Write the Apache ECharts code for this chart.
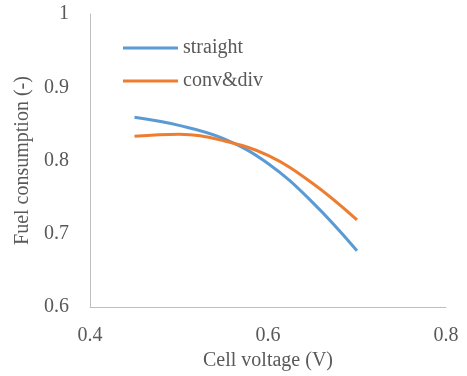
<!DOCTYPE html>
<html>
<head>
<meta charset="utf-8">
<script src="https://cdn.jsdelivr.net/npm/echarts@6/dist/echarts.min.js"></script>
<style>
  html, body { margin: 0; padding: 0; background: #fff; }
  #chart { width: 467px; height: 376px; }
</style>
</head>
<body>
<div id="chart"></div>
<script>
// data
var voltage = [0.45, 0.5, 0.55, 0.6, 0.65, 0.7];
var straight = [0.859, 0.848, 0.830, 0.796, 0.743, 0.677];
var convDiv = [0.833, 0.836, 0.827, 0.807, 0.769, 0.719];
var seriesNames = ['straight', 'conv&div'];

function pairs(xs, ys) {
  var out = [];
  for (var i = 0; i < xs.length; i++) out.push([xs[i], ys[i]]);
  return out;
}

var dom = document.getElementById('chart');
var myChart = echarts.init(dom, null, { renderer: 'canvas' });
var font = '"Liberation Serif", "Times New Roman", serif';
var grey = '#595959';

var option = {
  animation: false,
  textStyle: { fontFamily: font },
  grid: { left: 90, right: 21, top: 14, bottom: 65 },
  legend: {
    orient: 'vertical',
    left: 118,
    top: 33,
    itemWidth: 55,
    itemHeight: 3,
    itemGap: 13,
    icon: 'rect',
    textStyle: { fontFamily: font, fontSize: 20, color: grey },
    data: seriesNames
  },
  xAxis: {
    type: 'value',
    min: 0.4,
    max: 0.8,
    interval: 0.2,
    name: 'Cell voltage (V)',
    nameLocation: 'middle',
    nameGap: 32,
    nameTextStyle: { fontFamily: font, fontSize: 20, color: grey },
    axisLine: { lineStyle: { color: '#BFBFBF', width: 1 } },
    axisTick: { show: false },
    splitLine: { show: false },
    axisLabel: { fontFamily: font, fontSize: 20, color: grey, margin: 19,
      formatter: function (v) { return v.toFixed(1); } }
  },
  yAxis: {
    type: 'value',
    min: 0.6,
    max: 1,
    interval: 0.1,
    name: 'Fuel consumption (-)',
    nameLocation: 'middle',
    nameGap: 56,
    nameTextStyle: { fontFamily: font, fontSize: 20, color: grey },
    axisLine: { show: true, lineStyle: { color: '#BFBFBF', width: 1 } },
    axisTick: { show: false },
    splitLine: { show: false },
    axisLabel: { fontFamily: font, fontSize: 20, color: grey, margin: 21,
      formatter: function (v) { return v === 1 ? '1' : v.toFixed(1); } }
  },
  series: [
    {
      name: seriesNames[0],
      type: 'line',
      smooth: 0.4,
      showSymbol: false,
      data: pairs(voltage, straight),
      lineStyle: { color: '#5B9BD5', width: 3 },
      itemStyle: { color: '#5B9BD5' }
    },
    {
      name: seriesNames[1],
      type: 'line',
      smooth: 0.4,
      showSymbol: false,
      data: pairs(voltage, convDiv),
      lineStyle: { color: '#ED7D31', width: 3 },
      itemStyle: { color: '#ED7D31' }
    }
  ]
};

myChart.setOption(option);
window.addEventListener('resize', myChart.resize);
</script>
</body>
</html>
